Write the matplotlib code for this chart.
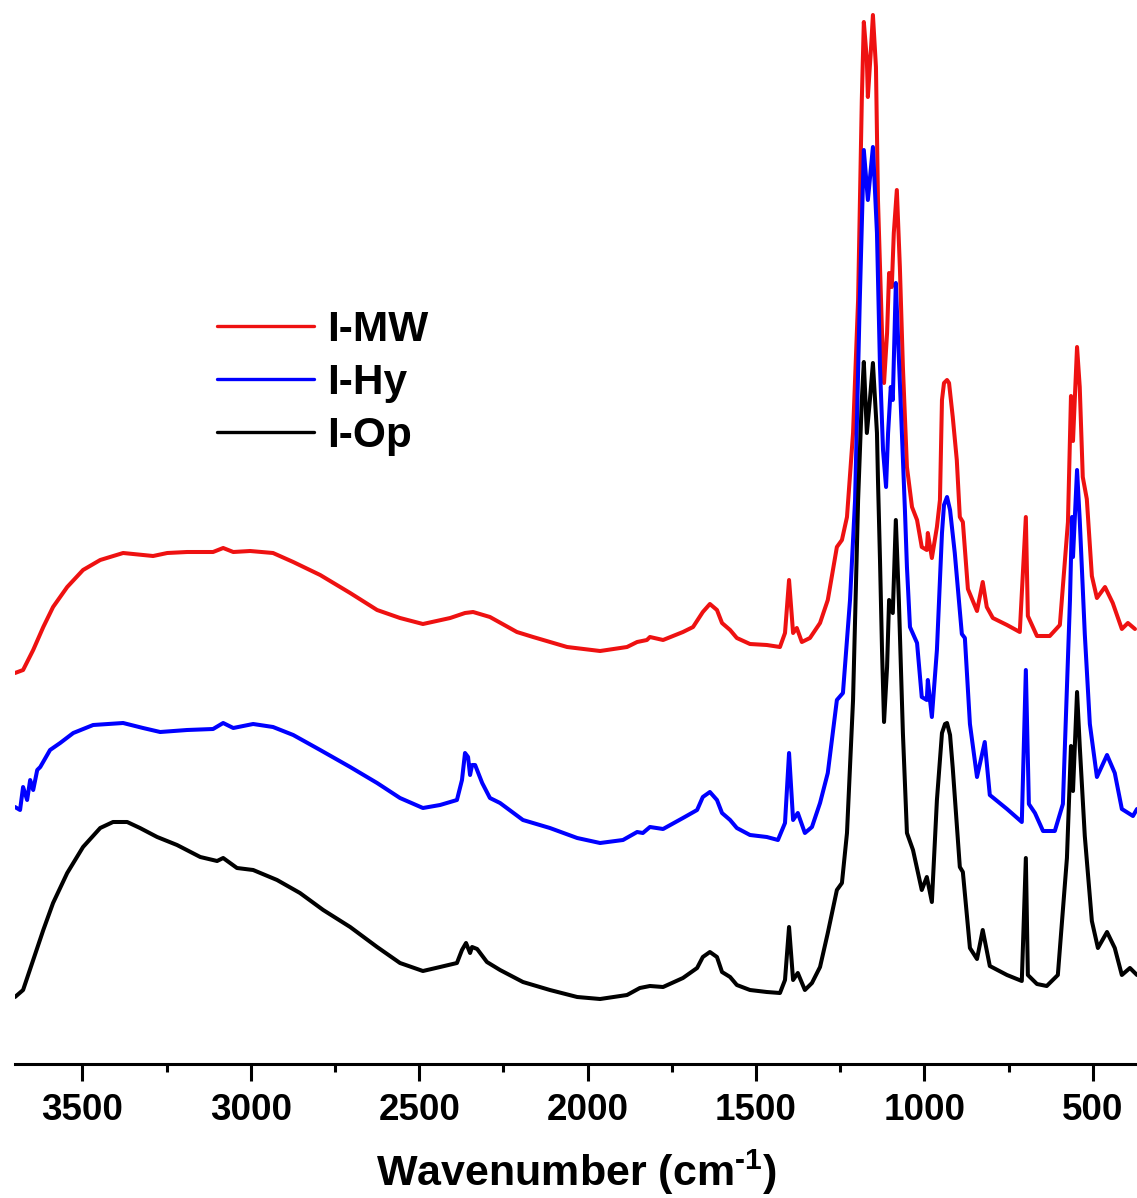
import matplotlib
matplotlib.use("Agg")
import matplotlib.pyplot as plt
from matplotlib.ticker import MultipleLocator

plt.rcParams['font.family'] = ['Liberation Sans', 'DejaVu Sans']
plt.rcParams['font.weight'] = 'bold'
plt.rcParams['mathtext.fontset'] = 'custom'
plt.rcParams['mathtext.bf'] = 'Liberation Sans:bold'
plt.rcParams['mathtext.rm'] = 'Liberation Sans:bold'
plt.rcParams['mathtext.default'] = 'bf'

# ---------------- data (wavenumber in cm-1, intensity in a.u., offset stacked) -------------
mw_wn = [3700, 3676, 3646, 3616, 3587, 3545, 3498, 3447, 3379, 3290, 3248, 3189, 3112, 3082,
         3052, 3002, 2934, 2874, 2794, 2705, 2625, 2557, 2489, 2408, 2364, 2340, 2290, 2210,
         2162, 2061, 1963, 1883, 1853, 1824, 1815, 1776, 1717, 1687, 1658, 1637, 1616, 1601,
         1577, 1557, 1518, 1468, 1429, 1414, 1402, 1390, 1379, 1364, 1340, 1310, 1287, 1260,
         1245, 1230, 1212, 1197, 1186, 1180, 1171, 1168, 1159, 1153, 1144, 1138, 1126, 1120,
         1111, 1105, 1097, 1091, 1082, 1073, 1064, 1052, 1037, 1022, 1008, 993, 990, 978, 963,
         954, 948, 942, 933, 927, 916, 904, 895, 886, 871, 844, 827, 815, 797, 755, 717, 699,
         693, 666, 628, 598, 574, 565, 559, 547, 539, 530, 518, 503, 488, 464, 441, 414, 396, 375]
mw_val = [39.1, 39.4, 41.4, 43.7, 45.7, 47.7, 49.4, 50.4, 51.1, 50.8, 51.1, 51.2, 51.2, 51.6,
          51.2, 51.3, 51.1, 50.2, 48.9, 47.1, 45.4, 44.6, 44.0, 44.6, 45.1, 45.2, 44.7, 43.2,
          42.7, 41.7, 41.3, 41.7, 42.2, 42.4, 42.7, 42.4, 43.2, 43.7, 45.2, 46.0, 45.4, 44.1,
          43.4, 42.6, 42.0, 41.9, 41.7, 43.1, 48.4, 43.1, 43.6, 42.2, 42.6, 44.1, 46.4, 51.7,
          52.4, 54.7, 63.1, 76.4, 96.4, 104.2, 100.4, 96.7, 101.4, 104.9, 99.7, 86.4, 73.1, 68.1,
          73.1, 79.1, 77.7, 83.1, 87.4, 79.7, 69.7, 59.7, 55.7, 54.4, 51.7, 51.4, 53.1, 50.6, 53.7,
          56.4, 66.4, 68.1, 68.4, 68.1, 64.7, 60.4, 54.7, 54.2, 47.5, 45.3, 48.2, 45.7, 44.6, 43.9,
          43.2, 54.7, 44.8, 42.8, 42.8, 43.9, 54.2, 66.8, 62.3, 71.7, 67.7, 58.7, 56.5, 48.8, 46.6,
          47.7, 46.1, 43.5, 44.1, 43.5]

hy_wn = [3700, 3685, 3676, 3664, 3655, 3646, 3634, 3625, 3596, 3566, 3527, 3468, 3379, 3320,
         3269, 3189, 3112, 3082, 3052, 2993, 2934, 2874, 2794, 2705, 2625, 2557, 2489, 2438,
         2388, 2373, 2364, 2355, 2349, 2343, 2334, 2313, 2290, 2260, 2192, 2112, 2031, 1963,
         1895, 1853, 1836, 1815, 1776, 1717, 1675, 1658, 1637, 1616, 1601, 1577, 1557, 1518,
         1468, 1435, 1414, 1402, 1390, 1376, 1355, 1334, 1310, 1287, 1260, 1242, 1221, 1206,
         1192, 1180, 1168, 1153, 1141, 1132, 1123, 1114, 1108, 1100, 1094, 1085, 1079, 1067,
         1058, 1052, 1043, 1022, 1008, 993, 990, 978, 963, 948, 942, 933, 924, 910, 889, 880,
         865, 844, 821, 806, 755, 711, 699, 690, 672, 648, 613, 589, 568, 562, 559, 547, 539,
         524, 509, 488, 458, 435, 414, 381, 369]
hy_val = [25.7, 25.4, 27.7, 26.4, 28.4, 27.4, 29.4, 29.7, 31.4, 32.1, 33.1, 33.9, 34.1, 33.6,
          33.2, 33.4, 33.5, 34.1, 33.6, 34.0, 33.7, 32.9, 31.4, 29.7, 28.1, 26.6, 25.6, 25.9,
          26.4, 28.4, 31.1, 30.7, 28.9, 29.9, 29.9, 28.1, 26.6, 26.1, 24.4, 23.6, 22.6, 22.1,
          22.4, 23.2, 23.1, 23.7, 23.5, 24.6, 25.4, 26.7, 27.2, 26.4, 25.1, 24.4, 23.6, 22.9,
          22.7, 22.4, 24.1, 31.1, 24.4, 25.1, 23.1, 23.7, 26.1, 29.1, 36.4, 37.1, 46.4, 56.4,
          76.4, 91.4, 86.4, 91.7, 83.1, 69.7, 61.4, 57.7, 63.1, 67.7, 66.4, 78.1, 73.1, 63.1,
          55.4, 49.7, 43.7, 42.1, 36.7, 36.4, 38.4, 34.7, 41.4, 53.1, 55.9, 56.7, 55.4, 51.1,
          43.0, 42.6, 34.0, 28.7, 32.2, 26.9, 25.5, 24.2, 39.4, 26.0, 25.1, 23.3, 23.3, 26.0,
          46.4, 54.7, 50.7, 59.4, 54.4, 43.0, 34.0, 28.7, 30.9, 29.1, 25.5, 24.8, 25.5]

op_wn = [3700, 3676, 3646, 3616, 3587, 3545, 3498, 3447, 3409, 3367, 3329, 3278, 3219, 3150,
         3100, 3082, 3041, 2993, 2922, 2854, 2785, 2705, 2625, 2557, 2489, 2438, 2388, 2373,
         2361, 2349, 2343, 2328, 2299, 2260, 2192, 2112, 2031, 1963, 1883, 1845, 1815, 1776,
         1717, 1675, 1658, 1637, 1616, 1601, 1577, 1557, 1518, 1468, 1429, 1414, 1402, 1390,
         1376, 1355, 1334, 1310, 1287, 1260, 1245, 1230, 1212, 1197, 1186, 1180, 1171, 1162,
         1153, 1141, 1138, 1132, 1126, 1120, 1111, 1105, 1094, 1085, 1076, 1064, 1052, 1034,
         1008, 993, 978, 963, 948, 939, 933, 924, 916, 895, 886, 865, 844, 827, 806, 755, 711,
         699, 693, 666, 637, 604, 577, 565, 559, 547, 539, 524, 503, 485, 458, 435, 414, 390, 369]
op_val = [6.7, 7.4, 10.4, 13.4, 16.1, 19.1, 21.7, 23.6, 24.2, 24.2, 23.6, 22.7, 21.9, 20.7,
          20.3, 20.6, 19.6, 19.4, 18.4, 17.1, 15.4, 13.7, 11.7, 10.1, 9.3, 9.7, 10.1, 11.4,
          12.1, 11.1, 11.7, 11.5, 10.2, 9.4, 8.2, 7.4, 6.7, 6.5, 6.9, 7.6, 7.8, 7.7,
          8.6, 9.6, 10.7, 11.2, 10.7, 9.2, 8.7, 7.9, 7.4, 7.2, 7.1, 8.4, 13.7, 8.4,
          9.1, 7.4, 8.1, 9.7, 13.1, 17.4, 18.1, 23.1, 36.4, 56.4, 66.4, 70.2, 63.1, 66.4,
          70.1, 63.1, 58.4, 50.4, 41.4, 34.2, 39.7, 46.4, 45.1, 54.4, 46.4, 33.1, 23.1, 21.4,
          17.4, 18.7, 16.2, 26.4, 33.1, 34.0, 34.1, 32.9, 29.6, 19.7, 19.2, 11.6, 10.5, 13.4, 9.8,
          8.9, 8.3, 20.6, 8.9, 8.0, 7.8, 8.9, 20.6, 31.8, 27.3, 37.2, 31.8, 22.8, 14.3, 11.6,
          13.2, 11.6, 8.9, 9.6, 8.9]

labels = ['I-MW', 'I-Hy', 'I-Op']
colors = ['#ee1111', '#0000ff', '#000000']
x_ticks = [3500, 3000, 2500, 2000, 1500, 1000, 500]

# ---------------- figure ----------------
W, H = 1137, 1198
fig = plt.figure(figsize=(W / 100, H / 100), dpi=100)
ax = fig.add_axes([15 / W, 1 - 1064 / H, 1 - 15 / W, 1064 / H])

for wn, val, lab, col in zip([mw_wn, hy_wn, op_wn], [mw_val, hy_val, op_val], labels, colors):
    ax.plot(wn, val, color=col, lw=2.9, label=lab, solid_joinstyle='round',
            solid_capstyle='round')

ax.set_xlim(3700, 369)
ax.set_ylim(0, 106.4)
ax.set_xticks(x_ticks)
ax.xaxis.set_minor_locator(MultipleLocator(250))
ax.set_yticks([])
for s in ['left', 'right', 'top']:
    ax.spines[s].set_visible(False)
ax.spines['bottom'].set_linewidth(2.2)
ax.tick_params(axis='x', which='major', direction='out', length=12, width=2.2,
               labelsize=26.5, pad=9)
ax.tick_params(axis='x', which='minor', direction='out', length=6, width=2.2)
for t in ax.get_xticklabels():
    t.set_fontweight('bold')
ax.set_xlabel(r'Wavenumber (cm$^{\text{-1}}$)', fontsize=31, fontweight='bold', labelpad=14)

leg = ax.legend(loc='center left', bbox_to_anchor=(217 / W, 1 - 383 / H),
                bbox_transform=fig.transFigure, frameon=False,
                handlelength=2.3, handletextpad=0.3, labelspacing=0.3,
                borderpad=0, borderaxespad=0, prop={'weight': 'bold', 'size': 30.5})
for h in leg.get_lines():
    h.set_linewidth(2.4)

fig.savefig('out.png', dpi=100)
